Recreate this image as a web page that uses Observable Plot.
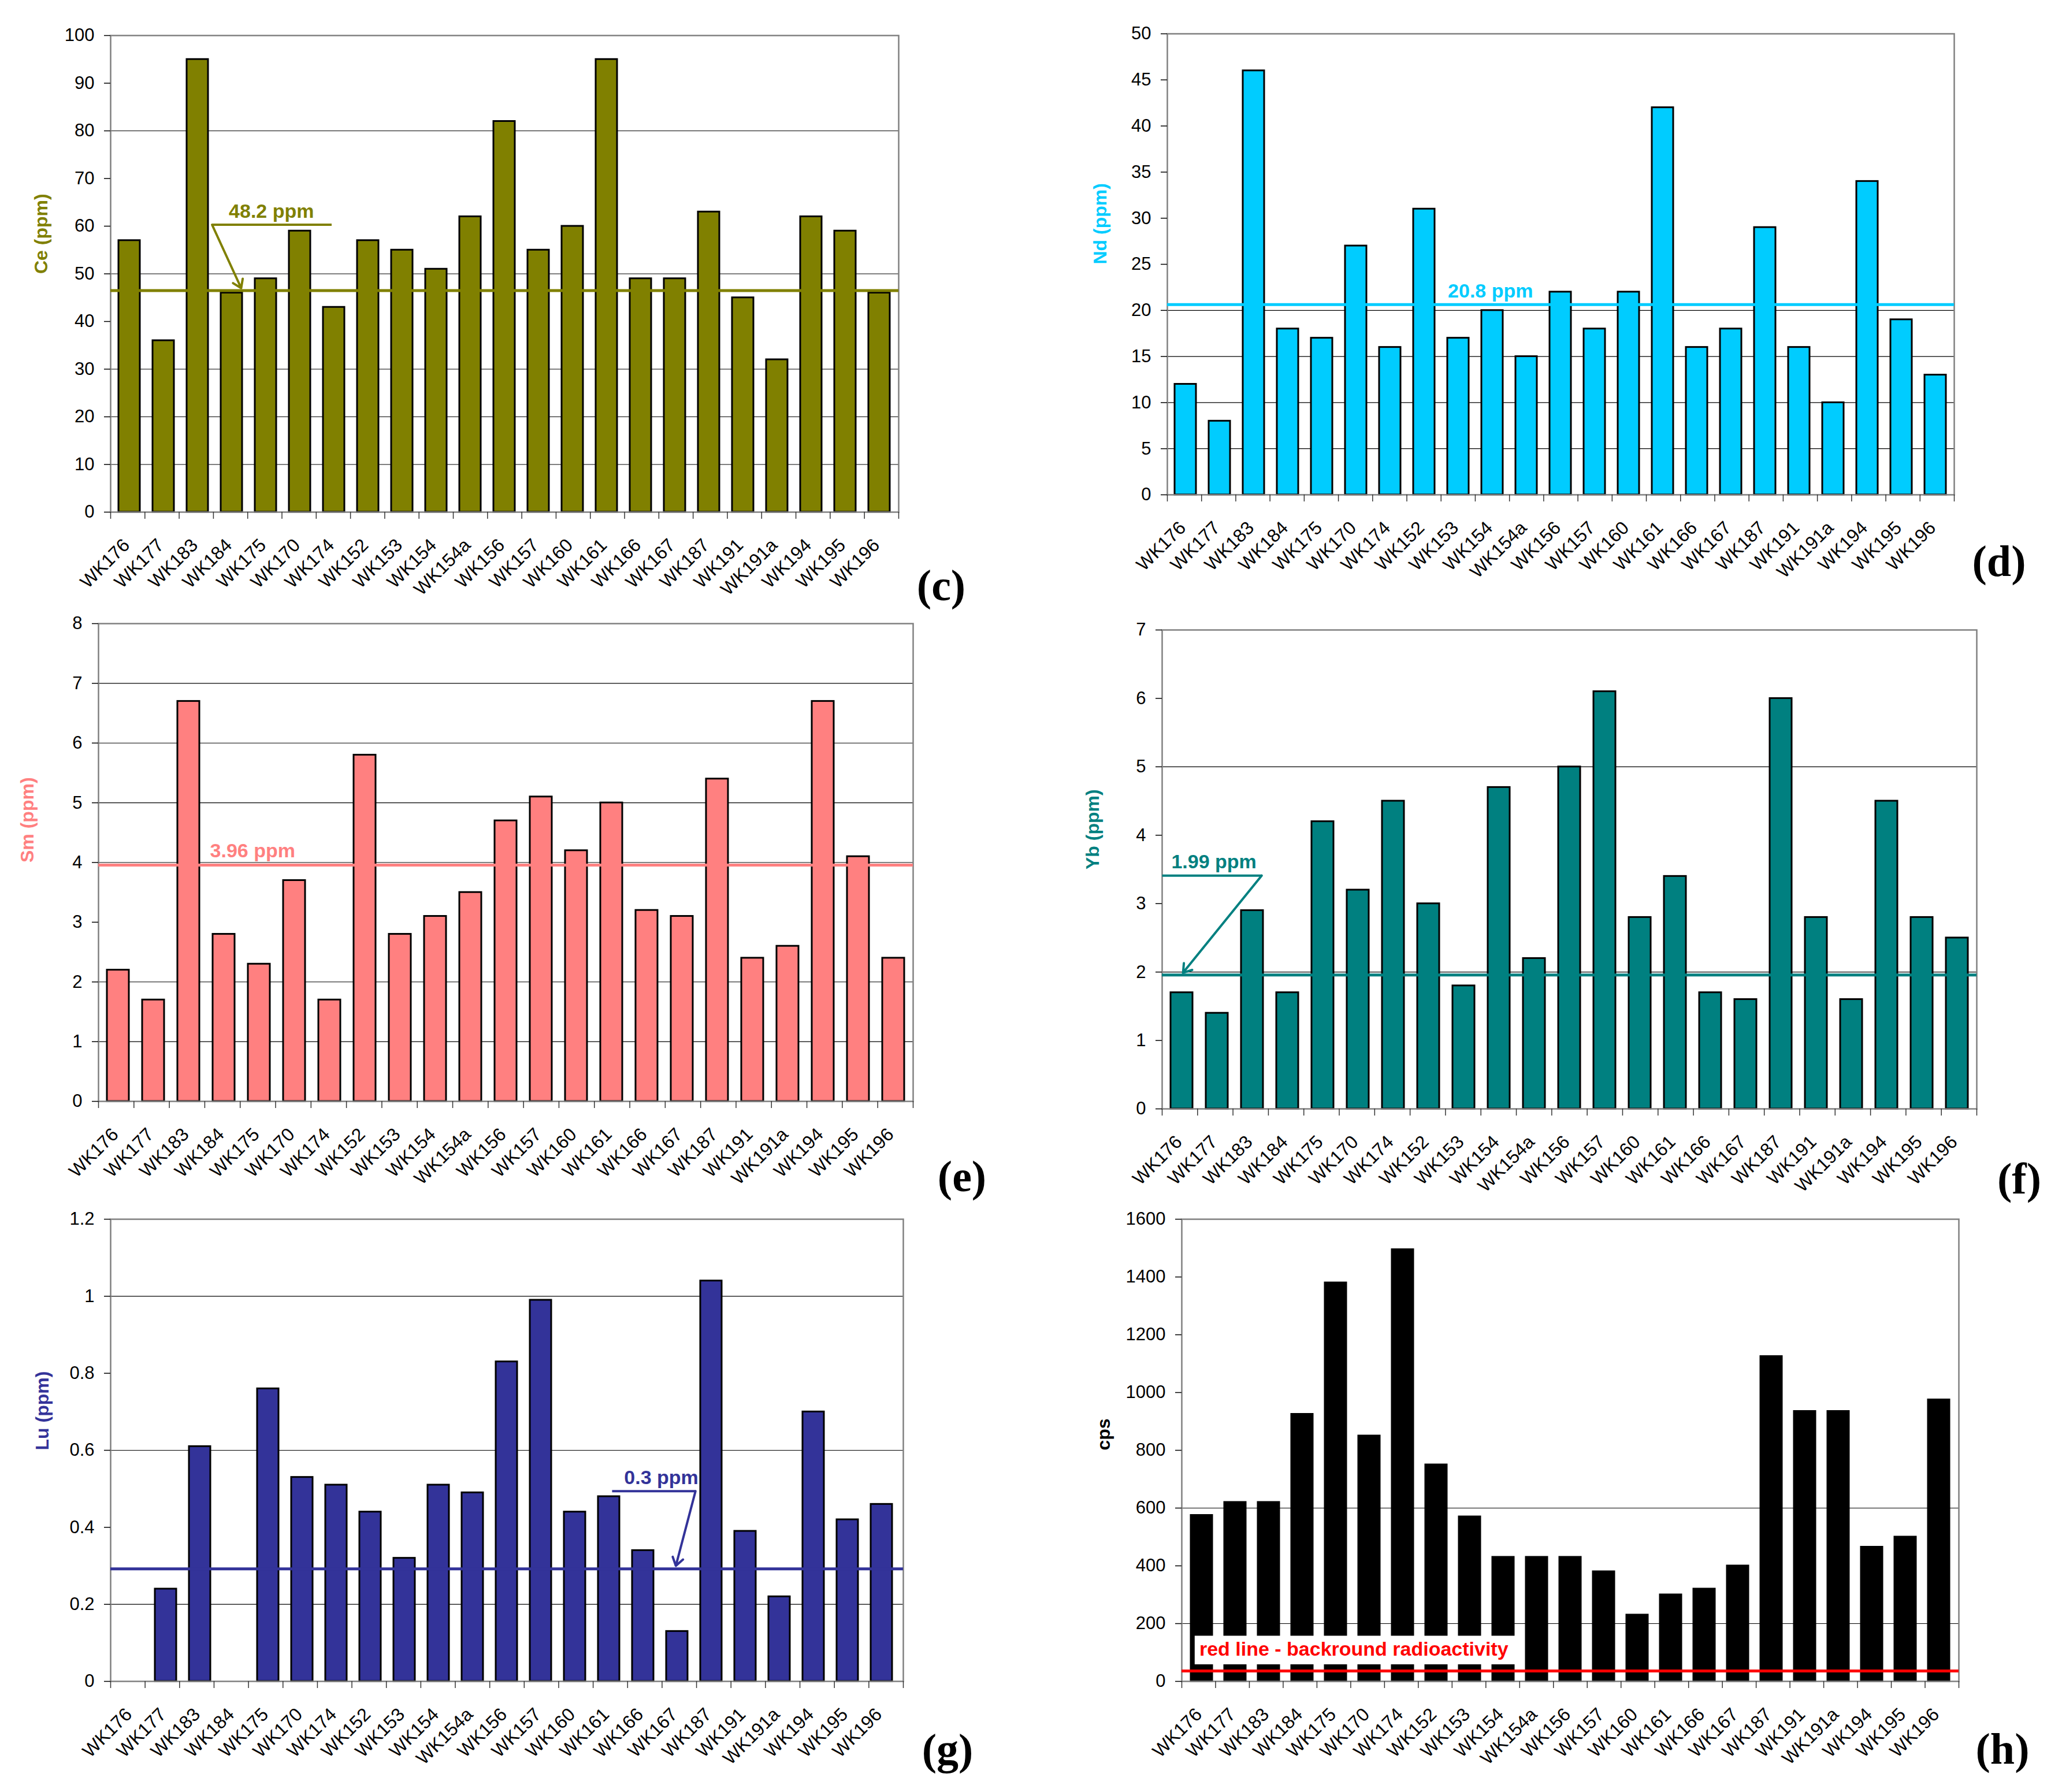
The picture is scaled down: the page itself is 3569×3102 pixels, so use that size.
<!DOCTYPE html>
<html>
<head>
<meta charset="utf-8">
<script src="https://cdn.jsdelivr.net/npm/d3@7"></script>
<script src="https://cdn.jsdelivr.net/npm/@observablehq/plot@0.6"></script>
<style>
html, body { margin: 0; padding: 0; background: #fff; }
#page { position: relative; width: 3569px; height: 3102px; overflow: hidden; background: #fff; }
#page svg { position: absolute; overflow: visible; }
.plabel { position: absolute; font-family: "Liberation Serif", "DejaVu Serif", serif; font-weight: bold;
  font-size: 76px; line-height: 76px; transform: translate(-50%, -50%); white-space: nowrap; color: #000; }
</style>
</head>
<body>
<div id="page"></div>
<script>
// ---- data ----
const samples = ["WK176","WK177","WK183","WK184","WK175","WK170","WK174","WK152","WK153","WK154","WK154a",
  "WK156","WK157","WK160","WK161","WK166","WK167","WK187","WK191","WK191a","WK194","WK195","WK196"];

const ceValues  = [57,36,95,46,49,59,43,57,55,51,62,82,55,60,95,49,49,63,45,32,62,59,46];
const ndValues  = [12,8,46,18,17,27,16,31,17,20,15,22,18,22,42,16,18,29,16,10,34,19,13];
const smValues  = [2.2,1.7,6.7,2.8,2.3,3.7,1.7,5.8,2.8,3.1,3.5,4.7,5.1,4.2,5.0,3.2,3.1,5.4,2.4,2.6,6.7,4.1,2.4];
const ybValues  = [1.7,1.4,2.9,1.7,4.2,3.2,4.5,3.0,1.8,4.7,2.2,5.0,6.1,2.8,3.4,1.7,1.6,6.0,2.8,1.6,4.5,2.8,2.5];
const luValues  = [null,0.24,0.61,null,0.76,0.53,0.51,0.44,0.32,0.51,0.49,0.83,0.99,0.44,0.48,0.34,0.13,1.04,0.39,0.22,0.70,0.42,0.46];
const cpsValues = [575,620,620,925,1380,850,1495,750,570,430,430,430,380,230,300,320,400,1125,935,935,465,500,975];

const ceTicks  = [0,10,20,30,40,50,60,70,80,90,100];
const ndTicks  = [0,5,10,15,20,25,30,35,40,45,50];
const smTicks  = [0,1,2,3,4,5,6,7,8];
const ybTicks  = [0,1,2,3,4,5,6,7];
const luTicks  = [0,0.2,0.4,0.6,0.8,1,1.2];
const cpsTicks = [0,200,400,600,800,1000,1200,1400,1600];

const ceTickLabels  = ["0","10","20","30","40","50","60","70","80","90","100"];
const ndTickLabels  = ["0","5","10","15","20","25","30","35","40","45","50"];
const smTickLabels  = ["0","1","2","3","4","5","6","7","8"];
const ybTickLabels  = ["0","1","2","3","4","5","6","7"];
const luTickLabels  = ["0","0.2","0.4","0.6","0.8","1","1.2"];
const cpsTickLabels = ["0","200","400","600","800","1000","1200","1400","1600"];

// grid lines that are visible in the figure
const ceGrid  = [10,20,30,50,80];
const ndGrid  = [5,10,15,20];
const smGrid  = [1,2,4,5,6,7];
const ybGrid  = [2,5];
const luGrid  = [0.2,0.6,1];
const cpsGrid = [200,600];

// mean / reference lines (as drawn)
const ceMean = 46.5, ndMean = 20.63, smMean = 3.957, ybMean = 1.957, luMean = 0.292, cpsBackground = 36;

// annotations (x in sample-slot units, y in data units)
const ceNote  = {text: "48.2 ppm", x: 3.45, y: 63.1};
const ceSeg   = {x1: 2.96, y1: 60.3, x2: 6.45, y2: 60.3};
const ceArrow = {x1: 2.96, y1: 60.3, x2: 3.81, y2: 47.0};
const ndNote  = {text: "20.8 ppm", x: 8.2, y: 22.1};
const smNote  = {text: "3.96 ppm", x: 3.15, y: 4.19};
const ybNote  = {text: "1.99 ppm", x: 0.26, y: 3.61};
const ybSeg   = {x1: 0, y1: 3.41, x2: 2.81, y2: 3.41};
const ybArrow = {x1: 2.81, y1: 3.41, x2: 0.59, y2: 1.99};
const luNote  = {text: "0.3 ppm", x: 14.9, y: 0.529};
const luSeg   = {x1: 14.55, y1: 0.494, x2: 16.97, y2: 0.494};
const luArrow = {x1: 16.97, y1: 0.494, x2: 16.4, y2: 0.30};
const cpsNote = {text: "red line - backround radioactivity", x: 0.52, y: 111};
const cpsBox  = {x1: 0.39, x2: 10.12, y1: 58, y2: 157};

const FONT = '"Liberation Sans", Arial, "DejaVu Sans", sans-serif';
const page = document.getElementById("page");

function panel(p) {
  const n = samples.length;
  const W = p.right - p.left, H = p.bottom - p.top;
  const mL = 180, mR = 30, mT = 30, mB = 200;
  const dims = {width: W + mL + mR, height: H + mT + mB, marginLeft: mL, marginRight: mR, marginTop: mT, marginBottom: mB};
  const style = {fontFamily: FONT, fontSize: "31px", background: "transparent", color: "black", overflow: "visible"};
  const yDomain = [p.ticks[0], p.ticks[p.ticks.length - 1]];
  const rows = samples.map((s, i) => ({sample: s, value: p.values[i]})).filter(d => d.value != null);
  const tickMap = new Map(p.ticks.map((t, i) => [t, p.tickLabels[i]]));

  const main = Plot.plot({
    ...dims, style,
    x: {type: "band", domain: samples, paddingInner: 0.37, paddingOuter: 0.185, label: null},
    y: {domain: yDomain, label: null},
    marks: [
      Plot.ruleY(p.grid, {stroke: "black", strokeWidth: 1.2}),
      Plot.barY(rows, {x: "sample", y: "value", fill: p.color, stroke: "black", strokeWidth: 3}),
      Plot.frame({stroke: "#808080", strokeWidth: 2.5}),
      Plot.axisY({ticks: p.ticks, tickFormat: d => tickMap.get(d), tickSize: 11, tickPadding: 17, fontSize: 31, strokeWidth: 1.5}),
      Plot.axisX({tickSize: 0, tickRotate: -45, textAnchor: "end", lineAnchor: "middle", tickPadding: 52, dx: -5, fontSize: 32}),
      Plot.text([p.title], {text: d => d, frameAnchor: "left", dx: -p.titleOffset, rotate: -90,
        fill: p.titleColor, fontWeight: "bold", fontSize: 32})
    ]
  });

  const lineColor = p.lineColor || p.color;
  const marks = [
    Plot.axisX({ticks: d3.range(0, n + 1), tickSize: 12, tickFormat: () => "", strokeWidth: 1.5, stroke: "#333"})
  ];
  if (p.box) marks.push(Plot.rect([p.box], {x1: "x1", x2: "x2", y1: "y1", y2: "y2", fill: "white"}));
  marks.push(Plot.ruleY([p.mean], {stroke: lineColor, strokeWidth: 5}));
  if (p.seg) marks.push(Plot.link([p.seg], {x1: "x1", y1: "y1", x2: "x2", y2: "y2", stroke: lineColor, strokeWidth: 4}));
  if (p.arrow) marks.push(Plot.arrow([p.arrow], {x1: "x1", y1: "y1", x2: "x2", y2: "y2", stroke: lineColor,
    strokeWidth: 4, headLength: 6.2, headAngle: 68}));
  if (p.note) marks.push(Plot.text([p.note], {x: "x", y: "y", text: "text", textAnchor: "start",
    fill: p.noteColor || lineColor, fontWeight: "bold", fontSize: 34}));

  const over = Plot.plot({
    ...dims, style,
    x: {type: "linear", domain: [0, n], label: null},
    y: {domain: yDomain, axis: null},
    marks
  });

  for (const svg of [main, over]) {
    svg.style.left = (p.left - mL) + "px";
    svg.style.top = (p.top - mT) + "px";
    page.appendChild(svg);
  }

  const lab = document.createElement("div");
  lab.className = "plabel";
  lab.textContent = p.panelLabel;
  lab.style.left = p.labelX + "px";
  lab.style.top = p.labelY + "px";
  page.appendChild(lab);
}

panel({values: ceValues, ticks: ceTicks, tickLabels: ceTickLabels, grid: ceGrid, color: "#808000",
  title: "Ce (ppm)", titleColor: "#808000", titleOffset: 120, mean: ceMean, note: ceNote, seg: ceSeg, arrow: ceArrow,
  left: 191, right: 1555, top: 61, bottom: 886, panelLabel: "(c)", labelX: 1629, labelY: 1013});
panel({values: ndValues, ticks: ndTicks, tickLabels: ndTickLabels, grid: ndGrid, color: "#00CCFF",
  title: "Nd (ppm)", titleColor: "#00CCFF", titleOffset: 116, mean: ndMean, note: ndNote,
  left: 2020, right: 3382, top: 58, bottom: 856, panelLabel: "(d)", labelX: 3460, labelY: 971});
panel({values: smValues, ticks: smTicks, tickLabels: smTickLabels, grid: smGrid, color: "#FF8080",
  title: "Sm (ppm)", titleColor: "#FF8080", titleOffset: 123, mean: smMean, note: smNote,
  left: 170, right: 1580, top: 1079, bottom: 1906, panelLabel: "(e)", labelX: 1665, labelY: 2036});
panel({values: ybValues, ticks: ybTicks, tickLabels: ybTickLabels, grid: ybGrid, color: "#008080",
  title: "Yb (ppm)", titleColor: "#008080", titleOffset: 120, mean: ybMean, note: ybNote, seg: ybSeg, arrow: ybArrow,
  left: 2011, right: 3421, top: 1090, bottom: 1919, panelLabel: "(f)", labelX: 3495, labelY: 2040});
panel({values: luValues, ticks: luTicks, tickLabels: luTickLabels, grid: luGrid, color: "#333399",
  title: "Lu (ppm)", titleColor: "#333399", titleOffset: 118, mean: luMean, note: luNote, seg: luSeg, arrow: luArrow,
  left: 191, right: 1563, top: 2110, bottom: 2910, panelLabel: "(g)", labelX: 1640, labelY: 3028});
panel({values: cpsValues, ticks: cpsTicks, tickLabels: cpsTickLabels, grid: cpsGrid, color: "#000000",
  title: "cps", titleColor: "#000000", titleOffset: 135, mean: cpsBackground, lineColor: "#FF0000",
  note: cpsNote, box: cpsBox,
  left: 2045, right: 3390, top: 2110, bottom: 2910, panelLabel: "(h)", labelX: 3466, labelY: 3027});
</script>
</body>
</html>
